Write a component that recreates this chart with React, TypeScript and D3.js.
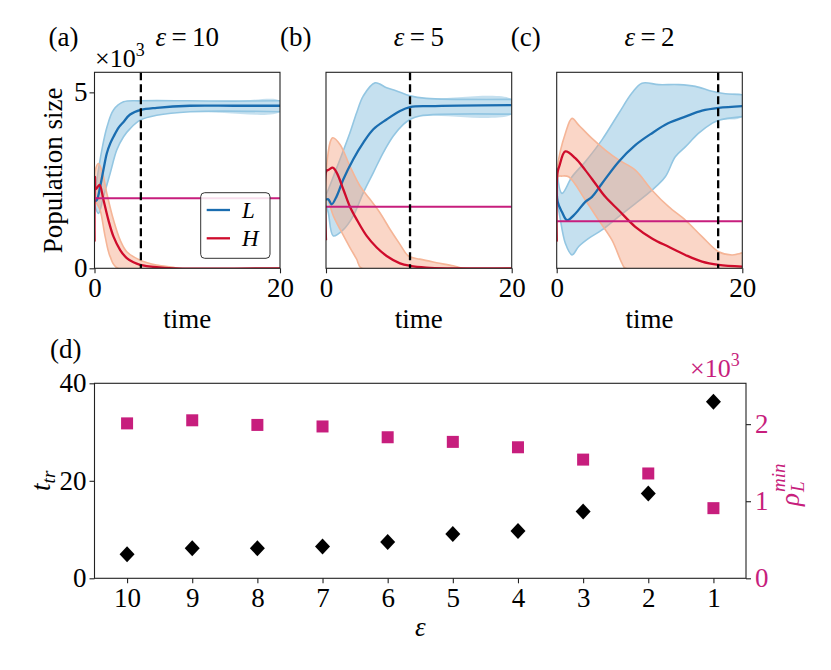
import { useEffect, useRef } from 'react';

import * as d3 from 'd3';

const WIDTH = 831;
const HEIGHT = 670;
const FONT = '"Liberation Serif", "Times New Roman", serif';
const FS = 27;

const BLUE = '#1a6db0';
const BLUE_BAND = '#7fbadc';
const BLUE_EDGE = '#93c6e2';
const RED = '#cf0c2c';
const RED_BAND = '#f4a582';
const RED_EDGE = '#f5b597';
const MAGENTA = '#c71e7d';

type Pt = [number, number];

// ---- top panels: population (x10^3) vs time ----
const timeTicks = [0, 20];
const popTicks = [0, 5];

// (a) eps = 10
const aLMean: Pt[] = [[0, 1.9], [0.25, 1.94], [0.6, 2.31], [1.0, 2.85], [1.33, 3.27], [1.7, 3.55], [2.05, 3.74], [2.6, 4.0], [3.13, 4.16], [3.84, 4.37], [5.0, 4.5], [6.7, 4.56], [10.3, 4.62], [15, 4.62], [20, 4.62]];
const aLUpper: Pt[] = [[0, 2.0], [0.25, 2.5], [0.79, 3.36], [1.33, 4.0], [2.05, 4.5], [3.13, 4.73], [5, 4.76], [10, 4.76], [15, 4.75], [20, 4.76]];
const aLLower: Pt[] = [[0, 1.8], [0.43, 1.56], [0.97, 2.04], [1.69, 2.7], [2.4, 3.36], [3.13, 3.74], [3.84, 3.97], [4.92, 4.21], [6.7, 4.35], [10.3, 4.45], [20, 4.45]];
const aHMean: Pt[] = [[0, 0.76], [0.05, 2.6], [0.15, 2.25], [0.54, 2.37], [0.97, 1.94], [1.5, 1.37], [2.05, 0.9], [2.77, 0.52], [3.48, 0.29], [4.2, 0.17], [4.92, 0.1], [6.7, 0.03], [8.5, 0], [20, 0]];
const aHUpper: Pt[] = [[0, 0.76], [0.1, 2.8], [0.43, 2.98], [0.79, 2.79], [1.33, 2.13], [2.05, 1.37], [2.77, 0.8], [3.48, 0.47], [4.92, 0.23], [6.7, 0.09], [8.5, 0.03], [9, 0], [20, 0]];
const aHLower: Pt[] = [[0, 0.76], [0.08, 1.9], [0.25, 1.84], [0.61, 1.65], [1.15, 0.9], [1.69, 0.33], [2.5, 0], [20, 0]];

// (b) eps = 5
const bLMean: Pt[] = [[0, 1.95], [0.25, 1.96], [0.61, 1.82], [1.15, 2.05], [1.87, 2.53], [2.94, 3.1], [4.02, 3.57], [5.1, 3.95], [6.53, 4.23], [7.97, 4.47], [9.05, 4.58], [11.2, 4.61], [20, 4.64]];
const bLUpper: Pt[] = [[0, 2.1], [0.25, 2.24], [1.51, 3.1], [2.58, 3.85], [3.3, 4.42], [4.02, 4.9], [5.28, 5.27], [6.53, 5.13], [7.6, 5.04], [9.05, 4.9], [10.8, 4.83], [20, 4.8]];
const bLLower: Pt[] = [[0, 1.8], [0.25, 1.58], [0.79, 0.92], [1.87, 1.1], [2.94, 1.49], [4.02, 2.15], [5.1, 2.72], [6.17, 3.29], [7.25, 3.76], [8.33, 4.09], [9.05, 4.23], [10.1, 4.33], [20, 4.38]];
const bHMean: Pt[] = [[0, 0.8], [0.05, 2.77], [0.3, 2.8], [0.72, 2.86], [1.15, 2.72], [1.87, 2.24], [2.58, 1.75], [3.3, 1.39], [4.38, 0.92], [5.46, 0.59], [6.53, 0.35], [7.97, 0.14], [9.05, 0.07], [10.8, 0.02], [13, 0], [20, 0]];
const bHUpper: Pt[] = [[0, 0.8], [0.1, 3.0], [0.72, 3.71], [1.51, 3.52], [2.58, 2.9], [3.66, 2.34], [4.74, 1.96], [5.81, 1.58], [6.89, 1.11], [7.97, 0.68], [8.87, 0.35], [10.1, 0.26], [11.9, 0.16], [13.7, 0.07], [14.8, 0], [20, 0]];
const bHLower: Pt[] = [[0, 0.8], [0.14, 1.96], [0.79, 1.49], [1.51, 1.11], [2.58, 0.59], [3.3, 0.26], [3.84, 0], [20, 0]];

// (c) eps = 2
const cLMean: Pt[] = [[0, 2.84], [0.1, 1.9], [0.57, 1.6], [1.11, 1.37], [2.0, 1.55], [3.08, 1.89], [3.8, 2.03], [4.88, 2.41], [6.68, 3.03], [8.47, 3.5], [10.27, 3.84], [12.0, 4.12], [13.86, 4.31], [15.66, 4.48], [17.45, 4.56], [20, 4.61]];
const cLUpper: Pt[] = [[0, 2.84], [0.57, 2.13], [1.65, 2.6], [3.08, 3.03], [4.88, 3.65], [6.68, 4.4], [8.11, 4.98], [9.19, 5.26], [10.99, 5.22], [13.14, 5.22], [14.94, 5.17], [16.73, 5.03], [18.17, 4.96], [20, 4.93]];
const cLLower: Pt[] = [[0, 1.85], [0.21, 1.65], [0.93, 0.71], [1.65, 0.38], [2.37, 0.62], [3.44, 0.85], [4.88, 1.09], [6.68, 1.47], [8.47, 1.84], [10.27, 2.22], [11.7, 2.6], [12.78, 3.17], [13.86, 3.45], [15.3, 3.84], [16.73, 4.12], [17.45, 4.21], [20, 4.31]];
const cHMean: Pt[] = [[0, 0.76], [0.08, 2.7], [0.28, 2.9], [0.93, 3.32], [2.0, 3.13], [3.08, 2.79], [4.16, 2.41], [5.24, 2.03], [6.68, 1.65], [8.47, 1.18], [10.27, 0.85], [12.06, 0.61], [13.86, 0.38], [15.66, 0.19], [17.45, 0.1], [20, 0.05]];
const cHUpper: Pt[] = [[0, 0.76], [0.1, 2.9], [0.93, 3.83], [1.65, 4.26], [2.37, 4.07], [3.8, 3.69], [5.24, 3.36], [6.68, 3.08], [8.47, 2.79], [10.27, 2.22], [12.06, 1.75], [13.86, 1.37], [15.66, 0.9], [17.45, 0.47], [18.89, 0.38], [20, 0.44]];
const cHLower: Pt[] = [[0, 0.76], [0.1, 2.6], [0.5, 2.62], [1.29, 2.6], [3.08, 1.94], [4.52, 1.37], [5.96, 0.8], [7.04, 0.14], [7.4, 0], [20, 0]];

const epsTop = ['10', '5', '2'];
const letters = ['(a)', '(b)', '(c)'];
const tTransition = [5.0, 9.05, 17.4];
const rhoMinTop = [1.99, 1.75, 1.34];

// ---- panel (d) ----
const epsilons = ['10', '9', '8', '7', '6', '5', '4', '3', '2', '1'];
const tTr = [4.92, 6.15, 6.15, 6.5, 7.45, 9.1, 9.7, 13.7, 17.4, 36.2];
const rhoMin = [2.01, 2.05, 1.99, 1.97, 1.83, 1.77, 1.7, 1.54, 1.36, 0.91];
const tTrTicks = [0, 20, 40];
const rhoTicks = [0, 1, 2];

const TOP = { top: 72.3, bottom: 268.3 };
const TOP_X = [[94.5, 280], [326, 511.7], [556.7, 742.3]];
const BOT = { left: 94.5, right: 746, top: 383.3, bottom: 578.3 };

const fmt = d3.format('d');

function App() {
  const svgRef = useRef(null);

  useEffect(() => {
    const svg = d3.select(svgRef.current);
    svg.selectAll('*').remove();
    svg.attr('font-family', FONT);

    const styleTicks = (a, color = '#000') => a
      .call((s) => s.select('.domain').remove())
      .call((s) => s.selectAll('line').attr('stroke', '#222').attr('stroke-width', 1.1))
      .call((s) => s.selectAll('text').attr('font-size', FS).attr('font-family', FONT).attr('fill', color));

    const y = d3.scaleLinear().domain([0, 5.57]).range([TOP.bottom, TOP.top]);

    const series = [
      [aLMean, aLUpper, aLLower, aHMean, aHUpper, aHLower],
      [bLMean, bLUpper, bLLower, bHMean, bHUpper, bHLower],
      [cLMean, cLUpper, cLLower, cHMean, cHUpper, cHLower],
    ];

    series.forEach(([lMean, lUp, lLo, hMean, hUp, hLo], i) => {
      const [x0, x1] = TOP_X[i];
      const x = d3.scaleLinear().domain([0, 20]).range([x0, x1]);
      const line = d3.line<Pt>()
        .x((d) => x(d[0]))
        .y((d) => y(d[1]))
        .curve(d3.curveCatmullRom.alpha(0.5));

      const clipId = `clip-${i}`;
      svg.append('clipPath').attr('id', clipId)
        .append('rect')
        .attr('x', x0).attr('y', TOP.top)
        .attr('width', x1 - x0).attr('height', TOP.bottom - TOP.top);

      const g = svg.append('g').attr('clip-path', `url(#${clipId})`);

      const band = (up: Pt[], lo: Pt[], fill: string, edge: string) => {
        g.append('path')
          .attr('d', `${line(up.concat(lo.slice().reverse()))}Z`)
          .attr('fill', fill)
          .attr('fill-opacity', 0.45)
          .attr('stroke', 'none');
        [up, lo].forEach((edgeData) => {
          g.append('path')
            .attr('d', line(edgeData))
            .attr('fill', 'none')
            .attr('stroke', edge)
            .attr('stroke-width', 1.6);
        });
      };

      band(lUp, lLo, BLUE_BAND, BLUE_EDGE);
      band(hUp, hLo, RED_BAND, RED_EDGE);

      g.append('path').attr('d', line(lMean))
        .attr('fill', 'none').attr('stroke', BLUE).attr('stroke-width', 2.3);
      g.append('path').attr('d', line(hMean))
        .attr('fill', 'none').attr('stroke', RED).attr('stroke-width', 2.3);

      g.append('line')
        .attr('x1', x0).attr('x2', x1)
        .attr('y1', y(rhoMinTop[i])).attr('y2', y(rhoMinTop[i]))
        .attr('stroke', MAGENTA).attr('stroke-width', 2);

      g.append('line')
        .attr('x1', x(tTransition[i])).attr('x2', x(tTransition[i]))
        .attr('y1', TOP.top).attr('y2', TOP.bottom)
        .attr('stroke', '#000').attr('stroke-width', 2.3)
        .attr('stroke-dasharray', '8,4');

      // frame
      svg.append('rect')
        .attr('x', x0).attr('y', TOP.top)
        .attr('width', x1 - x0).attr('height', TOP.bottom - TOP.top)
        .attr('fill', 'none').attr('stroke', '#222').attr('stroke-width', 1.1);

      svg.append('g')
        .attr('transform', `translate(0,${TOP.bottom})`)
        .call(d3.axisBottom(x).tickValues(timeTicks).tickFormat(fmt).tickSize(5).tickPadding(5).tickSizeOuter(0))
        .call((a) => styleTicks(a));

      if (i === 0) {
        svg.append('g')
          .attr('transform', `translate(${x0},0)`)
          .call(d3.axisLeft(y).tickValues(popTicks).tickFormat(fmt).tickSize(5).tickPadding(2).tickSizeOuter(0))
          .call((a) => styleTicks(a));
      }

      const cx = (x0 + x1) / 2;
      svg.append('text')
        .attr('x', cx).attr('y', 328)
        .attr('text-anchor', 'middle').attr('font-size', FS)
        .text('time');

      const title = svg.append('text')
        .attr('x', cx).attr('y', 46)
        .attr('text-anchor', 'middle').attr('font-size', FS);
      title.append('tspan').attr('font-style', 'italic').text('ε');
      title.append('tspan').text(`\u2009=\u2009${epsTop[i]}`);

      svg.append('text')
        .attr('x', x0 - 46).attr('y', 46)
        .attr('font-size', FS)
        .text(letters[i]);
    });

    // multiplier and y label for the top row
    const mult = svg.append('text').attr('x', 95).attr('y', 67).attr('font-size', 26);
    mult.append('tspan').text('×10');
    mult.append('tspan').attr('font-size', 18).attr('dy', -11).text('3');

    svg.append('text')
      .attr('transform', `translate(62,${(TOP.top + TOP.bottom) / 2}) rotate(-90)`)
      .attr('text-anchor', 'middle').attr('font-size', FS)
      .text('Population size');

    // legend in (a)
    const leg = svg.append('g');
    leg.append('rect')
      .attr('x', 200.7).attr('y', 192.7).attr('width', 69.3).attr('height', 65.6)
      .attr('rx', 4).attr('fill', '#fff').attr('fill-opacity', 0.85)
      .attr('stroke', '#333').attr('stroke-width', 1);
    [['L', BLUE, 210], ['H', RED, 238.3]].forEach(([lab, col, ly]) => {
      leg.append('line')
        .attr('x1', 206.7).attr('x2', 230).attr('y1', ly).attr('y2', ly)
        .attr('stroke', col as string).attr('stroke-width', 2.3);
      leg.append('text')
        .attr('x', 242).attr('y', (ly as number) + 8)
        .attr('font-size', 23).attr('font-style', 'italic')
        .text(lab as string);
    });

    // ---- panel (d) ----
    const xd = d3.scalePoint().domain(epsilons).range([BOT.left, BOT.right]).padding(0.5);
    const yl = d3.scaleLinear().domain([0, 40]).range([BOT.bottom, BOT.top]);
    const yr = d3.scaleLinear().domain([0, 2.53]).range([BOT.bottom, BOT.top]);

    svg.append('g')
      .selectAll('rect')
      .data(rhoMin)
      .join('rect')
      .attr('x', (_, j) => (xd(epsilons[j]) || 0) - 6)
      .attr('y', (d) => yr(d) - 6)
      .attr('width', 12).attr('height', 12)
      .attr('fill', MAGENTA);

    svg.append('g')
      .selectAll('path')
      .data(tTr)
      .join('path')
      .attr('transform', (d, j) => `translate(${xd(epsilons[j])},${yl(d)})`)
      .attr('d', 'M0,-8L7.5,0L0,8L-7.5,0Z')
      .attr('fill', '#000');

    svg.append('rect')
      .attr('x', BOT.left).attr('y', BOT.top)
      .attr('width', BOT.right - BOT.left).attr('height', BOT.bottom - BOT.top)
      .attr('fill', 'none').attr('stroke', '#222').attr('stroke-width', 1.1);

    svg.append('g')
      .attr('transform', `translate(0,${BOT.bottom})`)
      .call(d3.axisBottom(xd).tickSize(5).tickPadding(5).tickSizeOuter(0))
      .call((a) => styleTicks(a));

    svg.append('g')
      .attr('transform', `translate(${BOT.left},0)`)
      .call(d3.axisLeft(yl).tickValues(tTrTicks).tickFormat(fmt).tickSize(5).tickPadding(3).tickSizeOuter(0))
      .call((a) => styleTicks(a));

    svg.append('g')
      .attr('transform', `translate(${BOT.right},0)`)
      .call(d3.axisRight(yr).tickValues(rhoTicks).tickFormat(fmt).tickSize(5).tickPadding(4).tickSizeOuter(0))
      .call((a) => styleTicks(a, MAGENTA));

    svg.append('text').attr('x', 50).attr('y', 358).attr('font-size', FS).text('(d)');

    const multR = svg.append('text').attr('x', 690).attr('y', 377)
      .attr('font-size', 26).attr('fill', MAGENTA);
    multR.append('tspan').text('×10');
    multR.append('tspan').attr('font-size', 18).attr('dy', -11).text('3');

    svg.append('text')
      .attr('x', (BOT.left + BOT.right) / 2).attr('y', 636)
      .attr('text-anchor', 'middle').attr('font-size', FS).attr('font-style', 'italic')
      .text('ε');

    const tLab = svg.append('text')
      .attr('transform', `translate(50,${(BOT.top + BOT.bottom) / 2}) rotate(-90)`)
      .attr('text-anchor', 'middle').attr('font-size', FS).attr('font-style', 'italic');
    tLab.append('tspan').text('t');
    tLab.append('tspan').attr('font-size', 19).attr('dy', 5).text('tr');

    const rLab = svg.append('text')
      .attr('transform', `translate(799,482) rotate(-90)`)
      .attr('font-size', FS).attr('font-style', 'italic')
      .attr('fill', MAGENTA);
    rLab.append('tspan').attr('x', -24).text('ρ');
    rLab.append('tspan').attr('x', -10).attr('font-size', 19).attr('dy', 5).text('L');
    rLab.append('tspan').attr('x', -10).attr('font-size', 19).attr('dy', -19).text('min');
  }, []);

  return (
    <svg
      ref={svgRef}
      width={WIDTH}
      height={HEIGHT}
      viewBox={`0 0 ${WIDTH} ${HEIGHT}`}
      style={{ position: 'absolute', left: 0, top: 0, background: '#fff' }}
    />
  );
}

export default App;
